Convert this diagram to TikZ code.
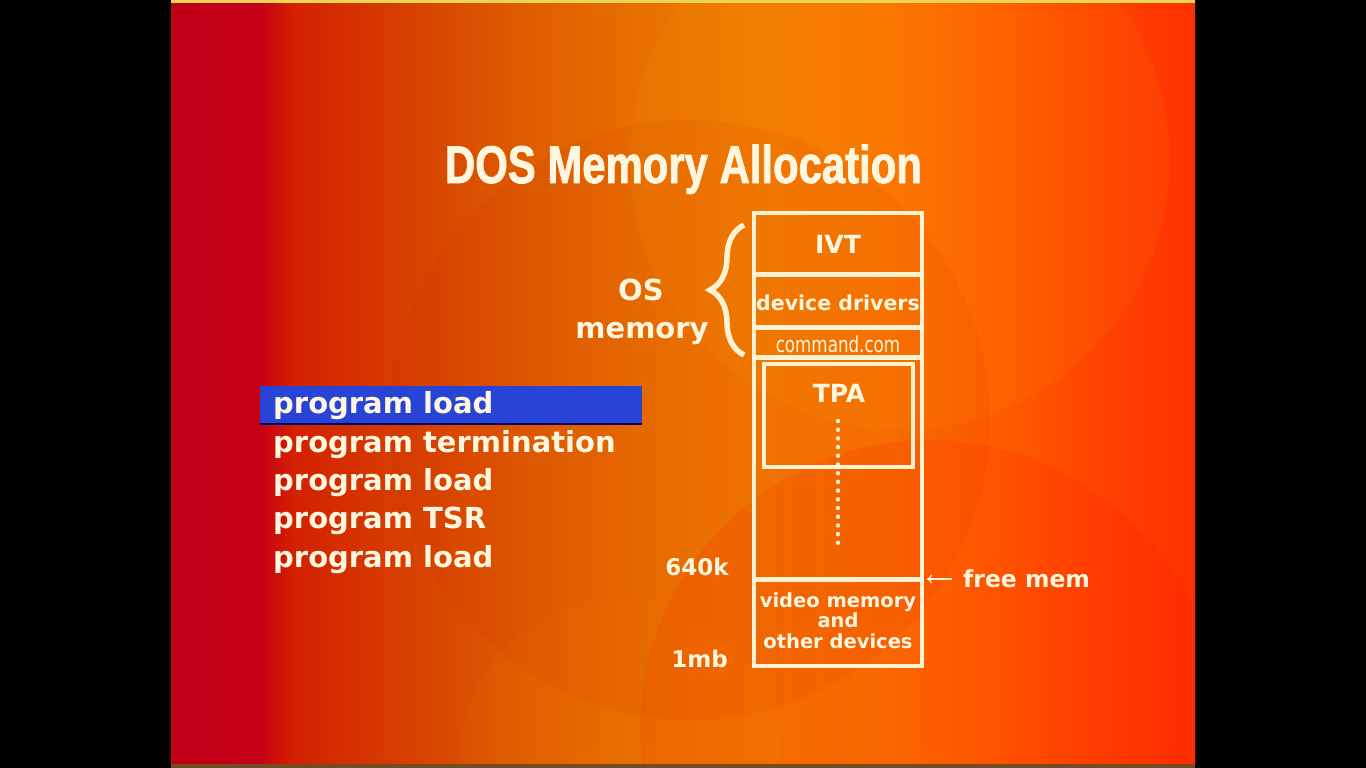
\documentclass[tikz,border=0pt]{standalone}
\usepackage{fontspec}
\setmainfont{DejaVu Sans}
\newfontfamily\titlefont[FakeStretch=0.79,FakeBold=1.5]{Liberation Sans}
\newfontfamily\narrowfont[FakeStretch=0.76]{DejaVu Sans}
\usetikzlibrary{decorations.pathreplacing,arrows.meta}

\definecolor{cream}{HTML}{FFF6E0}
\definecolor{linecream}{HTML}{FFF2D2}
\definecolor{selblue}{HTML}{2844D6}

% slide background: crimson on the left through orange to red-orange
\pgfdeclarehorizontalshading{slidebg}{100bp}{%
  rgb(0bp)=(0.75,0,0.09);
  rgb(25bp)=(0.75,0,0.09);
  rgb(29.3bp)=(0.78,0,0.09);
  rgb(31bp)=(0.83,0.13,0);
  rgb(36bp)=(0.84,0.24,0);
  rgb(42bp)=(0.87,0.36,0);
  rgb(48bp)=(0.91,0.44,0);
  rgb(54bp)=(0.95,0.48,0);
  rgb(60bp)=(0.98,0.45,0);
  rgb(65.5bp)=(1,0.36,0);
  rgb(70.5bp)=(1,0.26,0);
  rgb(75bp)=(1,0.19,0);
  rgb(100bp)=(1,0.19,0)}

\tikzset{
  lbl/.style={text=cream, font=\bfseries, inner sep=0pt},
  cellline/.style={draw=linecream, line width=5pt},
  listitem/.style={lbl, anchor=base west, font=\bfseries\fontsize{29}{34}\selectfont},
}

\begin{document}
\begin{tikzpicture}[x=1pt,y=-1pt]
\useasboundingbox (0,0) rectangle (1366,768);

% frame and backdrop
\fill[black] (0,0) rectangle (1366,768);
\shade[shading=slidebg] (171,0) rectangle (1195,766);
\begin{scope}
  \clip (171,3) rectangle (1195,764);
  \fill[yellow!70!orange, opacity=0.06] (900,160) circle (270);
  \fill[red!80!black, opacity=0.06] (690,420) circle (300);
  \fill[red, opacity=0.10] (930,730) circle (290);
  \fill[orange, opacity=0.08] (620,760) circle (160);
\end{scope}
\fill[yellow!60!brown!80!white] (171,0) rectangle (1195,3);
\fill[brown!60!black] (171,764) rectangle (1195,768);

% title
\node[lbl, anchor=base, font=\titlefont\bfseries\fontsize{53}{60}\selectfont]
  (title) at (683.5,183) {DOS Memory Allocation};

% memory map
\draw[cellline, line width=4pt] (754,213) rectangle (922,666);
\draw[cellline] (754,274) -- (922,274);
\draw[cellline] (754,327) -- (922,327);
\draw[cellline] (754,357) -- (922,357);
\draw[cellline, line width=4pt] (764,364) rectangle (913,467);
\draw[cellline] (754,579) -- (922,579);
\coordinate (freeline) at (927,579);

\node[lbl, anchor=base, font=\bfseries\fontsize{25}{30}\selectfont] (ivt) at (838,253) {IVT};
\node[lbl, anchor=base, font=\bfseries\fontsize{20.5}{24}\selectfont] (drivers) at (838,310) {device drivers};
\node[lbl, anchor=base, font=\narrowfont\fontsize{22}{26}\selectfont] (command) at (838,352) {command.com};
\node[lbl, anchor=base, font=\bfseries\fontsize{25}{30}\selectfont] (tpa) at (839,402) {TPA};
\node[lbl, anchor=base, font=\bfseries\fontsize{19.5}{22}\selectfont] (video) at (838,607) {video memory};
\node[lbl, anchor=base, font=\bfseries\fontsize{19.5}{22}\selectfont] (and) at (838,627) {and};
\node[lbl, anchor=base, font=\bfseries\fontsize{19.5}{22}\selectfont] (other) at (838,648) {other devices};

% growth of the transient program area
\coordinate (dotstart) at (838,421);
\coordinate (dotend) at (838,551);
\draw[linecream, line width=4.5pt, line cap=round, dash pattern=on 0pt off 8.7pt] (dotstart) -- (dotend);

% address marks
\node[lbl, anchor=base, font=\bfseries\fontsize{23}{28}\selectfont] (k640) at (697,575) {640k};
\node[lbl, anchor=base, font=\bfseries\fontsize{23}{28}\selectfont] (mb1) at (699.5,667) {1mb};
\node[lbl, anchor=base west, font=\bfseries\fontsize{23.5}{28}\selectfont] (freemem) at (963,587) {free mem};
\draw[linecream, line width=1.4pt, -{To[length=5pt,width=9pt]}] (freemem.west |- freeline) ++(-11,0) -- (freeline);

% operating system region
\node[lbl, anchor=base, font=\bfseries\fontsize{29}{34}\selectfont] (os) at (641,300) {OS};
\node[lbl, anchor=base, font=\bfseries\fontsize{29}{34}\selectfont] (osmem) at (642,338) {memory};
\coordinate (bracebot) at (744,355);
\coordinate (bracetop) at (744,225);
\draw[linecream, line width=5.5pt, decorate, decoration={brace, amplitude=34pt, aspect=0.5}] (bracebot) -- (bracetop);

% event list
\fill[selblue] (260,386) rectangle (642,424);
\draw[blue!40!black, line width=1.5pt] (260,424) -- (642,424);
\node[listitem] (ev1) at (273,413) {program load};
\node[listitem] (ev2) at (273,452) {program termination};
\node[listitem] (ev3) at (273,490) {program load};
\node[listitem] (ev4) at (273,528) {program TSR};
\node[listitem] (ev5) at (273,567) {program load};
\end{tikzpicture}
\end{document}
